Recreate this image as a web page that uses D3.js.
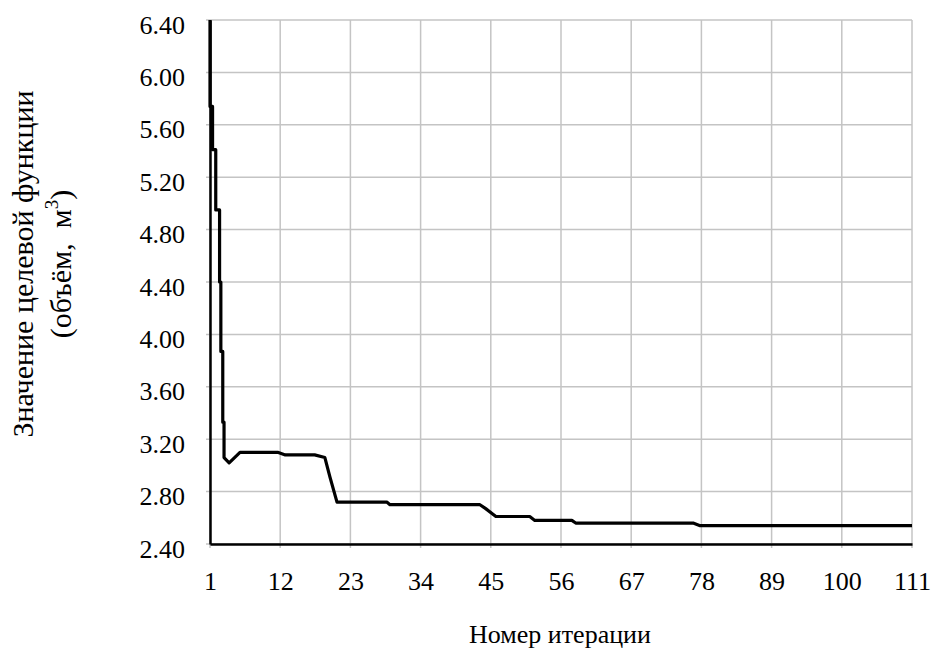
<!DOCTYPE html>
<html>
<head>
<meta charset="utf-8">
<script src="https://cdn.jsdelivr.net/npm/d3@7"></script>
<style>
  body { margin: 0; background: #fff; }
  svg text { font-family: 'Liberation Serif', 'Times New Roman', 'DejaVu Serif', serif; fill: #000; }
</style>
</head>
<body>
<svg id="chart" width="934" height="648"></svg>
<script>
// iteration number (fractional where the steep drop was drawn between points)
const iterations = [1, 1, 1.4, 1.4, 1.9, 1.9, 2.5, 2.5, 2.7, 2.7, 3.0, 3.0, 3.2, 3.2,
  4.0, 5.7, 11.6, 12.8, 17.4, 19.0, 19.8, 20.9, 28.7, 29.2, 43.3, 44.2, 45.8,
  51.1, 51.9, 57.7, 58.3, 76.7, 77.8, 111];
const objective = [6.40, 5.74, 5.74, 5.41, 5.41, 4.95, 4.95, 4.40, 4.40, 3.87, 3.87, 3.33, 3.33, 3.06,
  3.02, 3.10, 3.10, 3.08, 3.08, 3.06, 2.91, 2.72, 2.72, 2.70, 2.70, 2.67, 2.61,
  2.61, 2.58, 2.58, 2.56, 2.56, 2.54, 2.54];

const xTicks = [1, 12, 23, 34, 45, 56, 67, 78, 89, 100, 111];
const yTicks = [2.4, 2.8, 3.2, 3.6, 4.0, 4.4, 4.8, 5.2, 5.6, 6.0, 6.4];

const xTitle = "Номер итерации";
const yTitle1 = "Значение целевой функции";
const yTitle2 = "(объём,  м";

const mLeft = 210, mRight = 912, mTop = 20, mBottom = 544;
const serif = "'Liberation Serif', 'Times New Roman', 'DejaVu Serif', serif";

const svg = d3.select("#chart");

const x = d3.scaleLinear().domain([1, 111]).range([mLeft, mRight]);
const y = d3.scaleLinear().domain([2.4, 6.4]).range([mBottom, mTop]);

// grid
svg.append("g")
  .selectAll("line")
  .data(yTicks)
  .enter()
  .append("line")
  .attr("x1", mLeft - 4)
  .attr("x2", mRight)
  .attr("y1", d => y(d))
  .attr("y2", d => y(d))
  .attr("stroke", "#c4c4c4")
  .attr("stroke-width", 1.5);

svg.append("g")
  .selectAll("line")
  .data(xTicks)
  .enter()
  .append("line")
  .attr("x1", d => x(d))
  .attr("x2", d => x(d))
  .attr("y1", mTop)
  .attr("y2", mBottom + 4)
  .attr("stroke", "#c4c4c4")
  .attr("stroke-width", 1.5);

// axes
const xAxis = d3.axisBottom(x).tickValues(xTicks).tickSize(0).tickPadding(28);
const yAxis = d3.axisLeft(y).tickValues(yTicks).tickSize(0).tickPadding(25)
  .tickFormat(d => d.toFixed(2));

const gx = svg.append("g").attr("transform", "translate(0," + mBottom + ")").call(xAxis);
const gy = svg.append("g").attr("transform", "translate(" + mLeft + ",0)").call(yAxis);

[gx, gy].forEach(g => {
  g.attr("font-family", serif).attr("font-size", 26);
  g.select(".domain").attr("stroke", "#000").attr("stroke-width", 2.5);
});
gy.selectAll("text").attr("dy", "0.5em");

// line
const line = d3.line()
  .x((d, i) => x(iterations[i]))
  .y(d => y(d));

svg.append("path")
  .datum(objective)
  .attr("d", line)
  .attr("fill", "none")
  .attr("stroke", "#000")
  .attr("stroke-width", 3.2)
  .attr("stroke-linejoin", "round");

// titles
svg.append("text")
  .attr("x", 560)
  .attr("y", 643)
  .attr("text-anchor", "middle")
  .attr("font-family", serif)
  .attr("font-size", 26)
  .text(xTitle);

const yt = svg.append("text")
  .attr("transform", "translate(33,264) rotate(-90)")
  .attr("text-anchor", "middle")
  .attr("font-family", serif)
  .attr("font-size", 30);
yt.append("tspan").attr("x", 0).attr("dy", 0).text(yTitle1);
yt.append("tspan").attr("x", 0).attr("dy", 38).attr("xml:space", "preserve").text(yTitle2);
yt.append("tspan").attr("dy", -13).attr("font-size", 19).text("3");
yt.append("tspan").attr("dy", 13).text(")");
</script>
</body>
</html>
